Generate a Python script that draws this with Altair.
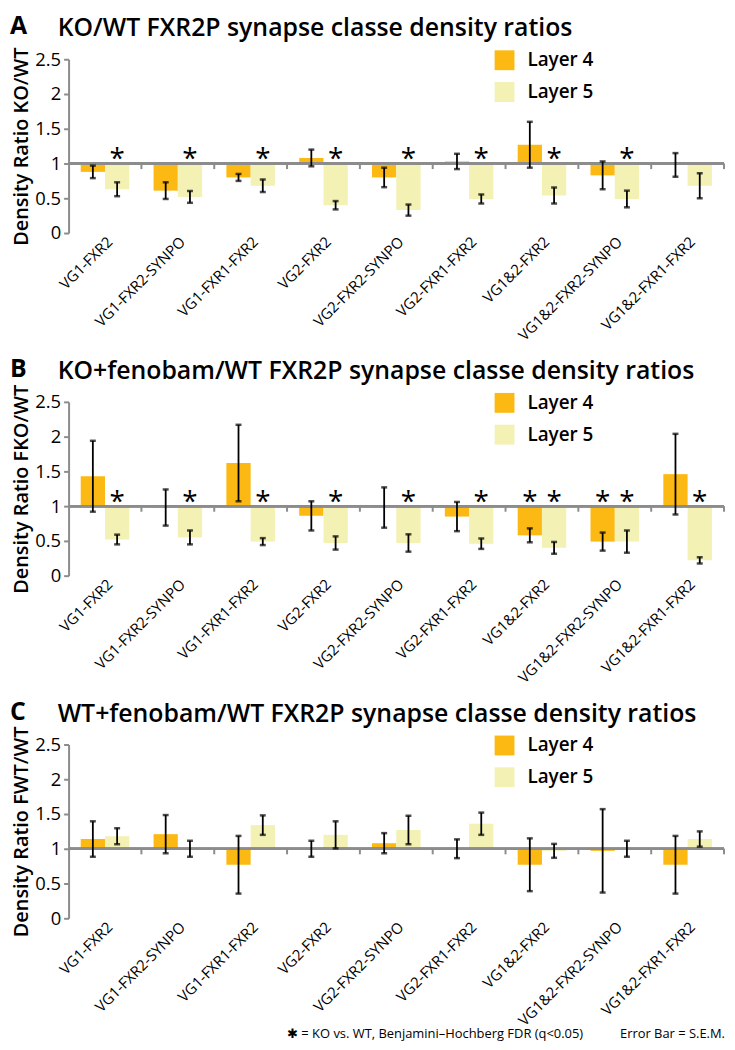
import altair as alt
import pandas as pd

FONT = "Open Sans"
C4 = "#FDB913"
C5 = "#F3F1B4"
AX = "#8c8c8c"

categories = ["VG1-FXR2", "VG1-FXR2-SYNPO", "VG1-FXR1-FXR2", "VG2-FXR2", "VG2-FXR2-SYNPO",
              "VG2-FXR1-FXR2", "VG1&2-FXR2", "VG1&2-FXR2-SYNPO", "VG1&2-FXR1-FXR2"]
layers = ["Layer 4", "Layer 5"]

# Panel A: KO/WT
a_l4 = [0.88, 0.61, 0.80, 1.08, 0.80, 1.03, 1.27, 0.83, 0.98]
a_l4_sem = [0.09, 0.12, 0.05, 0.12, 0.14, 0.11, 0.33, 0.20, 0.17]
a_l5 = [0.63, 0.52, 0.68, 0.40, 0.33, 0.49, 0.54, 0.49, 0.68]
a_l5_sem = [0.10, 0.085, 0.09, 0.06, 0.08, 0.065, 0.115, 0.12, 0.18]
a_sig4 = [0, 0, 0, 0, 0, 0, 0, 0, 0]
a_sig5 = [1, 1, 1, 1, 1, 1, 1, 1, 0]

# Panel B: KO+fenobam/WT
b_l4 = [1.43, 0.98, 1.62, 0.86, 0.98, 0.85, 0.58, 0.49, 1.46]
b_l4_sem = [0.51, 0.26, 0.55, 0.21, 0.29, 0.21, 0.10, 0.13, 0.58]
b_l5 = [0.52, 0.55, 0.49, 0.47, 0.47, 0.46, 0.40, 0.49, 0.22]
b_l5_sem = [0.07, 0.10, 0.05, 0.095, 0.125, 0.075, 0.085, 0.16, 0.045]
b_sig4 = [0, 0, 0, 0, 0, 0, 1, 1, 0]
b_sig5 = [1, 1, 1, 1, 1, 1, 1, 1, 1]

# Panel C: WT+fenobam/WT
c_l4 = [1.14, 1.21, 0.77, 1.00, 1.08, 1.00, 0.77, 0.97, 0.77]
c_l4_sem = [0.255, 0.275, 0.415, 0.115, 0.145, 0.135, 0.38, 0.60, 0.415]
c_l5 = [1.18, 1.00, 1.34, 1.20, 1.27, 1.36, 0.97, 1.00, 1.14]
c_l5_sem = [0.115, 0.115, 0.14, 0.195, 0.205, 0.16, 0.10, 0.115, 0.11]
c_sig4 = [0, 0, 0, 0, 0, 0, 0, 0, 0]
c_sig5 = [0, 0, 0, 0, 0, 0, 0, 0, 0]

panels = [
    ("A", "KO/WT FXR2P synapse classe density ratios", "Density Ratio KO/WT",
     a_l4, a_l4_sem, a_l5, a_l5_sem, a_sig4, a_sig5),
    ("B", "KO+fenobam/WT FXR2P synapse classe density ratios", "Density Ratio FKO/WT",
     b_l4, b_l4_sem, b_l5, b_l5_sem, b_sig4, b_sig5),
    ("C", "WT+fenobam/WT FXR2P synapse classe density ratios", "Density Ratio FWT/WT",
     c_l4, c_l4_sem, c_l5, c_l5_sem, c_sig4, c_sig5),
]

footnote = "\u2731 = KO vs. WT, Benjamini\u2013Hochberg FDR (q<0.05)" + "\u00a0" * 11 + "Error Bar = S.E.M."

W, H = 660, 175
STAR_Y = 1.15
YTICKS = [0, 0.5, 1, 1.5, 2, 2.5]


def make_panel(letter, title, ytitle, l4, l4s, l5, l5s, s4, s5):
    rows = []
    for i, c in enumerate(categories):
        for lay, v, s, g in (("Layer 4", l4[i], l4s[i], s4[i]), ("Layer 5", l5[i], l5s[i], s5[i])):
            rows.append({"cat": c, "layer": lay, "value": v, "lo": v - s, "hi": v + s,
                         "base": 1.0, "sig": g, "star": STAR_Y})
    df = pd.DataFrame(rows)
    tdf = pd.DataFrame({"cat": categories, "t0": [1.0] * 9, "t1": [0.92] * 9})

    xaxis = alt.Axis(title=None, labelAngle=-45, domain=False, ticks=False,
                     labelFont=FONT, labelFontSize=15, labelColor="black",
                     labelPadding=1, labelLimit=220)
    xenc = alt.X("cat:N", sort=categories,
                 scale=alt.Scale(paddingInner=0, paddingOuter=0), axis=xaxis)
    xoff = alt.XOffset("layer:N", sort=layers, scale=alt.Scale(paddingOuter=0.5, paddingInner=0))
    yscale = alt.Scale(domain=[0, 2.5], nice=False)

    # one identical axis definition shared by every layer that encodes y
    yaxis = alt.Axis(title=ytitle, values=YTICKS, format="~g",
                     labelOverlap=False, grid=False, domainColor=AX,
                     domainWidth=2, tickColor=AX, tickWidth=2, tickSize=5,
                     labelFont=FONT, labelFontSize=18.5, labelColor="black", labelPadding=3,
                     titleFont=FONT, titleFontSize=20, titleFontWeight=600,
                     titleColor="black", titlePadding=3)

    base = alt.Chart(df).encode(x=xenc, xOffset=xoff)

    bars = base.mark_bar().encode(
        y=alt.Y("value:Q", scale=yscale, axis=yaxis),
        y2="base:Q",
        color=alt.Color("layer:N", sort=layers,
                        scale=alt.Scale(domain=layers, range=[C4, C5]),
                        legend=alt.Legend(title=None, orient="none", legendX=429, legendY=-9,
                                          symbolType="square", symbolSize=400,
                                          symbolStrokeWidth=0, labelFont=FONT,
                                          labelFontSize=19, labelFontWeight=600,
                                          labelColor="black", rowPadding=12,
                                          labelOffset=13)),
    )

    baseline = alt.Chart(tdf).mark_rule(color=AX, strokeWidth=2).encode(
        y=alt.Y("t0:Q", scale=yscale, axis=yaxis))
    gticks = alt.Chart(tdf).mark_rule(color=AX, strokeWidth=2).encode(
        x=alt.X("cat:N", sort=categories, bandPosition=1, axis=xaxis),
        y=alt.Y("t0:Q", scale=yscale, axis=yaxis), y2="t1:Q")

    err = base.mark_rule(color="black", strokeWidth=1.8).encode(
        y=alt.Y("lo:Q", scale=yscale, axis=yaxis), y2="hi:Q")
    cap_lo = base.mark_tick(color="black", thickness=2.5, size=6).encode(
        y=alt.Y("lo:Q", scale=yscale, axis=yaxis))
    cap_hi = base.mark_tick(color="black", thickness=2.5, size=6).encode(
        y=alt.Y("hi:Q", scale=yscale, axis=yaxis))

    stars = base.mark_text(text="*", font=FONT, fontSize=28, baseline="middle",
                           dy=7, color="black").encode(
        y=alt.Y("star:Q", scale=yscale, axis=yaxis)).transform_filter("datum.sig == 1")

    letter_mark = alt.Chart(tdf.head(1)).mark_text(
        text=letter, font=FONT, fontSize=25, fontWeight="bold", align="left",
        baseline="middle", color="black").encode(x=alt.value(-59), y=alt.value(-33))
    title_mark = alt.Chart(tdf.head(1)).mark_text(
        text=title, font=FONT, fontSize=25, fontWeight=600, align="left",
        baseline="middle", color="black").encode(x=alt.value(-11), y=alt.value(-31))

    return alt.layer(bars, baseline, gticks, err, cap_lo, cap_hi, stars,
                     letter_mark, title_mark).properties(width=W, height=H)


charts = [make_panel(*p) for p in panels]

chart = alt.vconcat(*charts, spacing=14).resolve_legend(color="independent").properties(
    title=alt.TitleParams(footnote, orient="bottom", anchor="end", font=FONT, fontSize=13,
                          fontWeight="normal", color="black", offset=0),
    padding={"left": 2, "right": 2, "top": 3, "bottom": 0},
).configure_view(stroke=None)

chart.save("out.html", embed_options={"renderer": "svg", "actions": False})
